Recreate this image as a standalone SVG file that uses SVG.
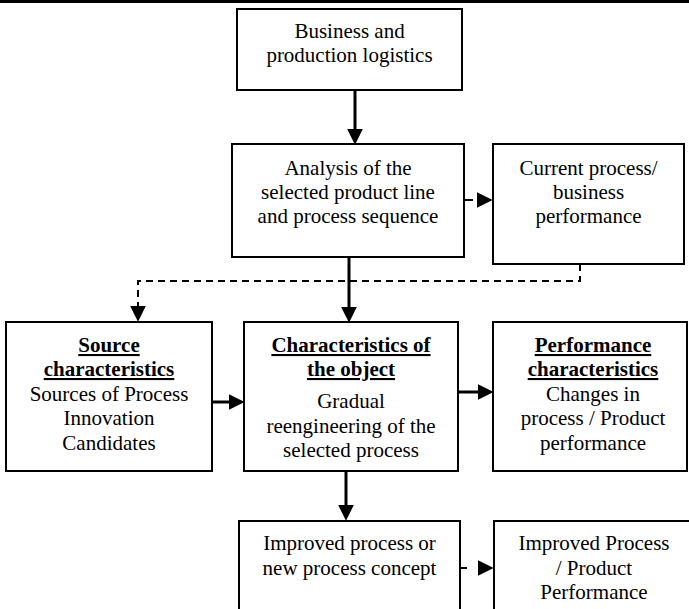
<svg xmlns="http://www.w3.org/2000/svg" width="689" height="609" viewBox="0 0 689 609">
<style>
  .box { fill: #fff; stroke: #000; stroke-width: 2; }
  text { font-family: "Liberation Serif", "Times New Roman", serif; font-size: 21px; fill: #000; text-anchor: middle; }
  .b { font-weight: bold; text-decoration: underline; }
  .solid { fill: none; stroke: #000; stroke-width: 3; }
  .dash { fill: none; stroke: #000; stroke-width: 2; stroke-dasharray: 7 5; }
</style>
<defs>
  <marker id="ah" markerUnits="userSpaceOnUse" markerWidth="16" markerHeight="16" refX="5" refY="7.5" orient="auto" viewBox="0 0 15 15">
    <path d="M0,0 L15,7.5 L0,15 Z" fill="#000"/>
  </marker>
</defs>
<rect x="0" y="0" width="689" height="609" fill="#fff"/>
<line x1="0" y1="1.5" x2="689" y2="1.5" stroke="#000" stroke-width="3"/>

<g id="connectors">
  <path class="solid" d="M355,90 L355,134" marker-end="url(#ah)"/>
  <path d="M464,200 L482,200" fill="none" stroke="#000" stroke-width="2" stroke-dasharray="9 30" marker-end="url(#ah)"/>
  <path class="dash" d="M580,264 L580,281 L138,281 L138,311" marker-end="url(#ah)"/>
  <path class="solid" d="M349,257 L349,312" marker-end="url(#ah)"/>
  <path class="solid" d="M212,402 L234,402" marker-end="url(#ah)"/>
  <path class="solid" d="M458,392 L483,392" marker-end="url(#ah)"/>
  <path class="solid" d="M346,471 L346,510" marker-end="url(#ah)"/>
  <path d="M457,568 L483,568" fill="none" stroke="#000" stroke-width="2" stroke-dasharray="10 30" marker-end="url(#ah)"/>
</g>

<g id="business-logistics">
  <rect class="box" x="237" y="9" width="225" height="81"/>
  <text x="349.5" y="38">Business and</text>
  <text x="349.5" y="62">production logistics</text>
</g>
<g id="analysis">
  <rect class="box" x="232" y="144" width="232" height="113"/>
  <text x="348" y="175">Analysis of the</text>
  <text x="348" y="199">selected product line</text>
  <text x="348" y="223">and process sequence</text>
</g>
<g id="current-performance">
  <rect class="box" x="493" y="144" width="191" height="120"/>
  <text x="588.5" y="175">Current process/</text>
  <text x="588.5" y="199">business</text>
  <text x="588.5" y="223">performance</text>
</g>
<g id="source">
  <rect class="box" x="6" y="322" width="206" height="149"/>
  <text class="b" x="109" y="352">Source</text>
  <text class="b" x="109" y="376">characteristics</text>
  <text x="109" y="401">Sources of Process</text>
  <text x="109" y="425">Innovation</text>
  <text x="109" y="450">Candidates</text>
</g>
<g id="object">
  <rect class="box" x="244" y="322" width="214" height="149"/>
  <text class="b" x="351" y="352">Characteristics of</text>
  <text class="b" x="351" y="376">the object</text>
  <text x="351" y="408">Gradual</text>
  <text x="351" y="433">reengineering of the</text>
  <text x="351" y="457">selected process</text>
</g>
<g id="performance">
  <rect class="box" x="493" y="322" width="194" height="149"/>
  <text class="b" x="593" y="352">Performance</text>
  <text class="b" x="593" y="376">characteristics</text>
  <text x="593" y="401">Changes in</text>
  <text x="593" y="425">process / Product</text>
  <text x="593" y="450">performance</text>
</g>
<g id="improved-process">
  <rect class="box" x="239" y="521" width="221" height="100"/>
  <text x="349.5" y="550">Improved process or</text>
  <text x="349.5" y="575">new process concept</text>
</g>
<g id="improved-performance">
  <rect class="box" x="494" y="521" width="200" height="100"/>
  <text x="594" y="550">Improved Process</text>
  <text x="594" y="575">/ Product</text>
  <text x="594" y="599">Performance</text>
</g>
</svg>
